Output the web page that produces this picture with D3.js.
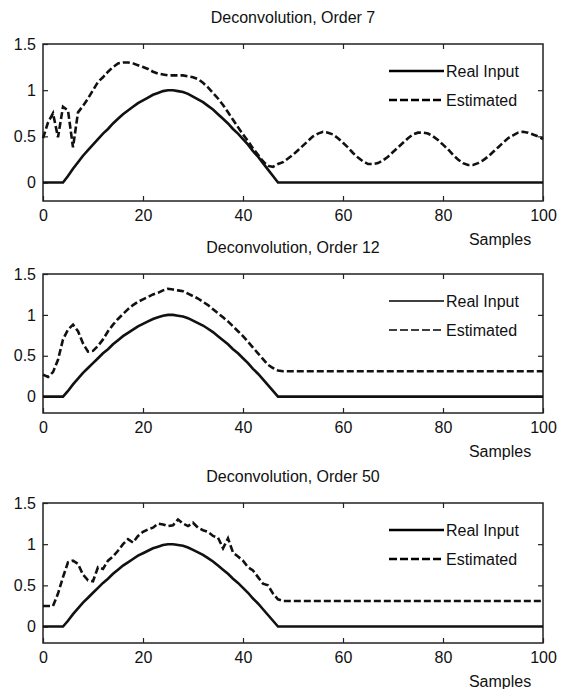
<!DOCTYPE html>
<html>
<head>
<meta charset="utf-8">
<script src="https://cdn.jsdelivr.net/npm/d3@7"></script>
<style>
  body { margin: 0; background: #fff; }
  svg text { font-family: "Liberation Sans", Arial, sans-serif; fill: #111; }
</style>
</head>
<body>
<div id="chart"></div>
<script>
  'use strict';

  // samples 0..100
  var samples = d3.range(0, 101);

  var realInput = [
    0, 0, 0, 0, 0, 0.07, 0.15, 0.22, 0.29, 0.35,
    0.41, 0.47, 0.53, 0.58, 0.64, 0.69, 0.74, 0.78, 0.82, 0.86,
    0.89, 0.92, 0.95, 0.97, 0.99, 1.0, 1.0, 0.99, 0.98, 0.96,
    0.93, 0.9, 0.87, 0.83, 0.79, 0.74, 0.69, 0.64, 0.58, 0.53,
    0.47, 0.41, 0.34, 0.28, 0.21, 0.14, 0.07, 0, 0, 0,
    0, 0, 0, 0, 0, 0, 0, 0, 0, 0,
    0, 0, 0, 0, 0, 0, 0, 0, 0, 0,
    0, 0, 0, 0, 0, 0, 0, 0, 0, 0,
    0, 0, 0, 0, 0, 0, 0, 0, 0, 0,
    0, 0, 0, 0, 0, 0, 0, 0, 0, 0,
    0
  ];

  var estOrder7 = [
    0.48, 0.65, 0.75, 0.49, 0.82, 0.78, 0.38, 0.76, 0.83, 0.91,
    1.0, 1.09, 1.14, 1.2, 1.25, 1.29, 1.3, 1.3, 1.29, 1.27,
    1.25, 1.23, 1.2, 1.18, 1.17, 1.16, 1.16, 1.16, 1.16, 1.15,
    1.14, 1.12, 1.08, 1.03, 0.97, 0.91, 0.84, 0.76, 0.68, 0.6,
    0.52, 0.45, 0.37, 0.3, 0.23, 0.18, 0.17, 0.2, 0.22, 0.26,
    0.3, 0.35, 0.4, 0.45, 0.5, 0.53, 0.55, 0.54, 0.52, 0.48,
    0.43, 0.38, 0.32, 0.27, 0.23, 0.2, 0.2, 0.21, 0.24, 0.28,
    0.33, 0.38, 0.43, 0.48, 0.52, 0.54, 0.54, 0.53, 0.5, 0.46,
    0.41, 0.36, 0.3, 0.25, 0.21, 0.19, 0.19, 0.21, 0.24, 0.28,
    0.33, 0.38, 0.43, 0.48, 0.51, 0.54, 0.55, 0.54, 0.52, 0.5,
    0.47
  ];

  var estOrder12 = [
    0.27, 0.24, 0.3, 0.45, 0.7, 0.82, 0.88, 0.8, 0.65, 0.55,
    0.56, 0.62, 0.7, 0.8, 0.88, 0.95, 1.01, 1.07, 1.12, 1.16,
    1.19, 1.22, 1.25, 1.27, 1.3, 1.32, 1.31, 1.3, 1.29, 1.26,
    1.23, 1.2, 1.16, 1.12, 1.07, 1.02, 0.97, 0.92, 0.86, 0.8,
    0.74, 0.67, 0.6, 0.53, 0.46, 0.39, 0.35, 0.32, 0.31, 0.31,
    0.31, 0.31, 0.31, 0.31, 0.31, 0.31, 0.31, 0.31, 0.31, 0.31,
    0.31, 0.31, 0.31, 0.31, 0.31, 0.31, 0.31, 0.31, 0.31, 0.31,
    0.31, 0.31, 0.31, 0.31, 0.31, 0.31, 0.31, 0.31, 0.31, 0.31,
    0.31, 0.31, 0.31, 0.31, 0.31, 0.31, 0.31, 0.31, 0.31, 0.31,
    0.31, 0.31, 0.31, 0.31, 0.31, 0.31, 0.31, 0.31, 0.31, 0.31,
    0.31
  ];

  var estOrder50 = [
    0.25, 0.25, 0.25, 0.4, 0.6, 0.78, 0.8, 0.76, 0.63, 0.56,
    0.55, 0.72, 0.7, 0.8, 0.85, 0.92, 1.0, 1.06, 1.02, 1.1,
    1.15, 1.18, 1.2, 1.25, 1.24, 1.22, 1.23, 1.3, 1.25, 1.22,
    1.26, 1.2, 1.17, 1.15, 1.1, 1.08, 0.95, 1.07, 0.9, 0.85,
    0.8, 0.72, 0.68, 0.6, 0.52, 0.5, 0.4, 0.33, 0.31, 0.31,
    0.31, 0.31, 0.31, 0.31, 0.31, 0.31, 0.31, 0.31, 0.31, 0.31,
    0.31, 0.31, 0.31, 0.31, 0.31, 0.31, 0.31, 0.31, 0.31, 0.31,
    0.31, 0.31, 0.31, 0.31, 0.31, 0.31, 0.31, 0.31, 0.31, 0.31,
    0.31, 0.31, 0.31, 0.31, 0.31, 0.31, 0.31, 0.31, 0.31, 0.31,
    0.31, 0.31, 0.31, 0.31, 0.31, 0.31, 0.31, 0.31, 0.31, 0.31,
    0.31
  ];

  var titles = ['Deconvolution, Order 7', 'Deconvolution, Order 12', 'Deconvolution, Order 50'];
  var estimates = [estOrder7, estOrder12, estOrder50];
  var legendLabels = ['Real Input', 'Estimated'];
  var xTicks = [0, 20, 40, 60, 80, 100];
  var yTicks = [0, 0.5, 1, 1.5];

  var width = 561, height = 689;
  var left = 43, right = 543;
  // top / bottom of each axes box
  var boxes = [
    { top: 44, bottom: 201, legendLine: 2.6 },
    { top: 274, bottom: 413, legendLine: 1.4 },
    { top: 503, bottom: 643, legendLine: 2.6 }
  ];

  var svg = d3.select('#chart')
    .append('svg')
    .attr('width', width)
    .attr('height', height);

  var x = d3.scaleLinear().domain([0, 100]).range([left, right]);

  boxes.forEach(function(box, i) {
    var y = d3.scaleLinear().domain([-0.2, 1.5]).range([box.bottom, box.top]);
    var g = svg.append('g');

    // axes with inward ticks
    var ax = g.append('g')
      .attr('transform', 'translate(0,' + box.bottom + ')')
      .call(d3.axisBottom(x).tickValues(xTicks).tickSize(-5).tickSizeOuter(0).tickPadding(9)
        .tickFormat(d3.format('d')));
    g.append('g')
      .attr('transform', 'translate(0,' + box.top + ')')
      .call(d3.axisTop(x).tickValues(xTicks.slice(1, 5)).tickSize(-5).tickSizeOuter(0).tickFormat(''));
    var ay = g.append('g')
      .attr('transform', 'translate(' + left + ',0)')
      .call(d3.axisLeft(y).tickValues(yTicks).tickSize(-5).tickSizeOuter(0).tickPadding(7)
        .tickFormat(function(d) { return d === 1.5 ? '1.5' : d3.format('')(d); }));
    g.append('g')
      .attr('transform', 'translate(' + right + ',0)')
      .call(d3.axisRight(y).tickValues(yTicks.slice(1, 3)).tickSize(-5).tickSizeOuter(0).tickFormat(''));

    g.selectAll('.domain').remove();
    g.selectAll('.tick line').attr('stroke', '#222').attr('stroke-width', 1.2);
    ax.selectAll('text').attr('font-size', 16).attr('fill', '#111');
    ay.selectAll('text').attr('font-size', 16).attr('fill', '#111');

    g.append('rect')
      .attr('x', left).attr('y', box.top)
      .attr('width', right - left).attr('height', box.bottom - box.top)
      .attr('fill', 'none').attr('stroke', '#222').attr('stroke-width', 1.5);

    // curves
    var line = d3.line()
      .x(function(d) { return x(d[0]); })
      .y(function(d) { return y(d[1]); });

    g.append('path')
      .datum(samples.map(function(s, k) { return [s, realInput[k]]; }))
      .attr('d', line)
      .attr('fill', 'none').attr('stroke', '#111').attr('stroke-width', 2.6);

    g.append('path')
      .datum(samples.map(function(s, k) { return [s, estimates[i][k]]; }))
      .attr('d', line)
      .attr('fill', 'none').attr('stroke', '#111').attr('stroke-width', 2.6)
      .attr('stroke-dasharray', '7,3');

    // title
    svg.append('text')
      .attr('x', (left + right) / 2).attr('y', box.top - 21)
      .attr('text-anchor', 'middle').attr('font-size', 16)
      .text(titles[i]);

    // x label
    svg.append('text')
      .attr('x', 500).attr('y', box.bottom + 44)
      .attr('text-anchor', 'middle').attr('font-size', 16)
      .text('Samples');

    // legend
    var leg = g.append('g');
    legendLabels.forEach(function(lbl, j) {
      var ly = box.top + 27 + j * 29;
      leg.append('line')
        .attr('x1', 389).attr('x2', 444).attr('y1', ly).attr('y2', ly)
        .attr('stroke', '#000').attr('stroke-width', box.legendLine)
        .attr('stroke-dasharray', j === 1 ? '8,3' : null);
      leg.append('text')
        .attr('x', 446).attr('y', ly).attr('dy', '0.35em')
        .attr('font-size', 16)
        .text(lbl);
    });
  });
</script>
</body>
</html>
